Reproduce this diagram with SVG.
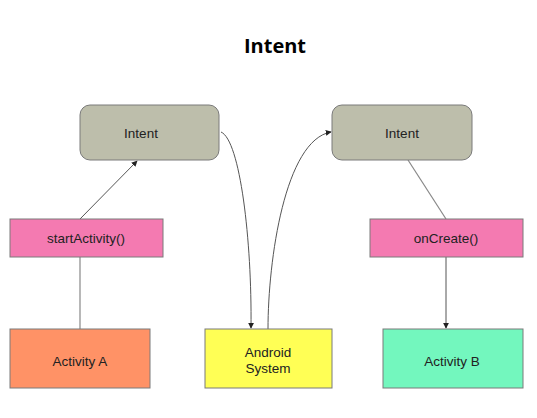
<svg xmlns="http://www.w3.org/2000/svg" width="537" height="418" viewBox="0 0 537 418">
<style>
.box{stroke:#7a7a7a;stroke-width:1}
.lbl{font-family:"Liberation Sans",Arial,sans-serif;font-size:13.5px;fill:#222;text-anchor:middle}
.con{fill:none;stroke:#555;stroke-width:1}
.plain{fill:none;stroke:#888;stroke-width:1.2}
</style>
<defs>
<marker id="arr" viewBox="0 0 8 8" refX="7" refY="4" markerWidth="6" markerHeight="6" orient="auto" markerUnits="userSpaceOnUse">
<path d="M0,0 L8,4 L0,8 z" fill="#222"/>
</marker>
</defs>
<rect width="537" height="418" fill="#fff"/>
<text x="275" y="53" font-family="'Open Sans',sans-serif" font-weight="bold" font-size="20" text-anchor="middle" fill="#000">Intent</text>
<g id="connectors">
<line class="con" x1="80" y1="219" x2="137" y2="161" marker-end="url(#arr)"/>
<line class="plain" x1="80" y1="257" x2="80" y2="329"/>
<path class="con" d="M221,132 C240,140 252,240 251,328" marker-end="url(#arr)"/>
<path class="con" d="M268,329 C268,260 285,140 331,132" marker-end="url(#arr)"/>
<line class="plain" x1="408" y1="160" x2="446" y2="219"/>
<line class="con" x1="446" y1="257" x2="446" y2="328" marker-end="url(#arr)"/>
</g>
<g id="intentA">
<rect class="box" x="80" y="105" width="139" height="55" rx="10" fill="#bdbeab"/>
<text class="lbl" x="141" y="138" font-size="14.5">Intent</text>
</g>
<g id="intentB">
<rect class="box" x="332" y="105" width="140" height="55" rx="10" fill="#bdbeab"/>
<text class="lbl" x="402" y="138" font-size="14.5">Intent</text>
</g>
<g id="startActivity">
<rect class="box" x="10" y="219" width="153" height="38" fill="#f47ab1"/>
<text class="lbl" x="86" y="243">startActivity()</text>
</g>
<g id="onCreate">
<rect class="box" x="370" y="219" width="153" height="38" fill="#f47ab1"/>
<text class="lbl" x="446" y="243">onCreate()</text>
</g>
<g id="activityA">
<rect class="box" x="10" y="329" width="140" height="59" fill="#ff9266"/>
<text class="lbl" x="80" y="366">Activity A</text>
</g>
<g id="androidSystem">
<rect class="box" x="205" y="329" width="127" height="59" fill="#ffff55"/>
<text class="lbl" x="268" y="357">Android</text>
<text class="lbl" x="268" y="373">System</text>
</g>
<g id="activityB">
<rect class="box" x="383" y="329" width="140" height="59" fill="#73f7be"/>
<text class="lbl" x="452" y="366">Activity B</text>
</g>
</svg>
